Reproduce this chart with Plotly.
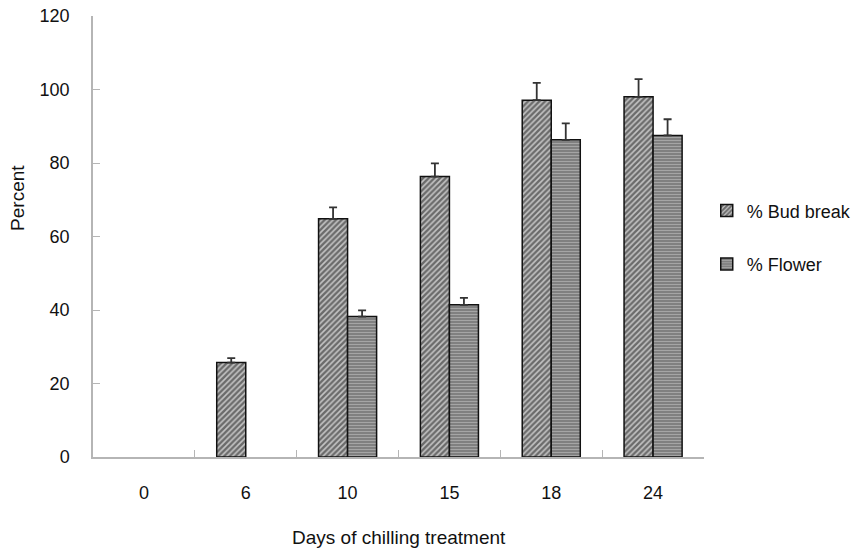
import plotly.graph_objects as go

days = ["0", "6", "10", "15", "18", "24"]
bud_break = [None, 25.7, 64.8, 76.3, 97.1, 98.0]
bud_break_err = [None, 1.2, 3.1, 3.6, 4.7, 4.8]
flower = [None, None, 38.2, 41.4, 86.3, 87.5]
flower_err = [None, None, 1.7, 1.9, 4.5, 4.4]
y_ticks = [0, 20, 40, 60, 80, 100, 120]
series_names = ["% Bud break", "% Flower"]

FONT = "Liberation Sans, Arial, sans-serif"

fig = go.Figure()
fig.add_trace(go.Bar(
    name=series_names[0], x=days, y=bud_break, legendgroup="a",
    marker=dict(color="#c0c0c0", line=dict(color="#111", width=1.5),
                pattern=dict(shape="/", fgcolor="#111111", bgcolor="#c4c4c4", size=4, solidity=0.6)),
    error_y=dict(type="data", symmetric=False, array=bud_break_err,
                 arrayminus=[0 if v is not None else None for v in bud_break_err],
                 color="#333", thickness=1.8, width=4),
))
fig.add_trace(go.Bar(
    name=series_names[1], x=days, y=flower, legendgroup="b",
    marker=dict(color="#8c8c8c", line=dict(color="#111", width=1.5),
                pattern=dict(shape="-", fgcolor="#d4d4d4", bgcolor="#808080", size=3, solidity=0.3)),
    error_y=dict(type="data", symmetric=False, array=flower_err,
                 arrayminus=[0 if v is not None else None for v in flower_err],
                 color="#333", thickness=1.8, width=4),
))

fig.update_layout(
    width=861, height=552,
    margin=dict(l=85, r=165, t=8, b=103, autoexpand=False),
    plot_bgcolor="white", paper_bgcolor="white",
    font=dict(family=FONT, size=18, color="#111"),
    barmode="group", bargap=0.43, bargroupgap=0,
    showlegend=True,
    legend=dict(x=1.0045, xanchor="left", y=0.600, yanchor="top",
                traceorder="grouped", tracegroupgap=27,
                font=dict(family=FONT, size=18, color="#111"),
                bgcolor="rgba(0,0,0,0)", itemwidth=30),
    xaxis=dict(showline=True, linecolor="#b5b5b5", linewidth=1.5, automargin=False,
               ticks="inside", tickson="boundaries", ticklen=7, tickcolor="#b5b5b5",
               tickfont=dict(size=18), ticklabelstandoff=19, showgrid=False),
    yaxis=dict(range=[0, 120], tickvals=y_ticks, showline=True, linecolor="#b5b5b5", linewidth=1.5,
               automargin=False, ticklabeloverflow="allow",
               ticks="inside", ticklen=7, tickcolor="#b5b5b5", showgrid=False, zeroline=False,
               tickfont=dict(size=18), ticklabelstandoff=18),
    annotations=[
        dict(text="Days of chilling treatment", xref="paper", yref="paper", x=0.5, y=0,
             yanchor="middle", xanchor="center", yshift=-80, showarrow=False,
             font=dict(size=19)),
        dict(text="Percent", xref="paper", yref="y", x=0, y=70.5, xanchor="center",
             yanchor="middle", xshift=-75, textangle=-90, showarrow=False,
             font=dict(size=19)),
    ],
)

fig.write_html("out.html")
